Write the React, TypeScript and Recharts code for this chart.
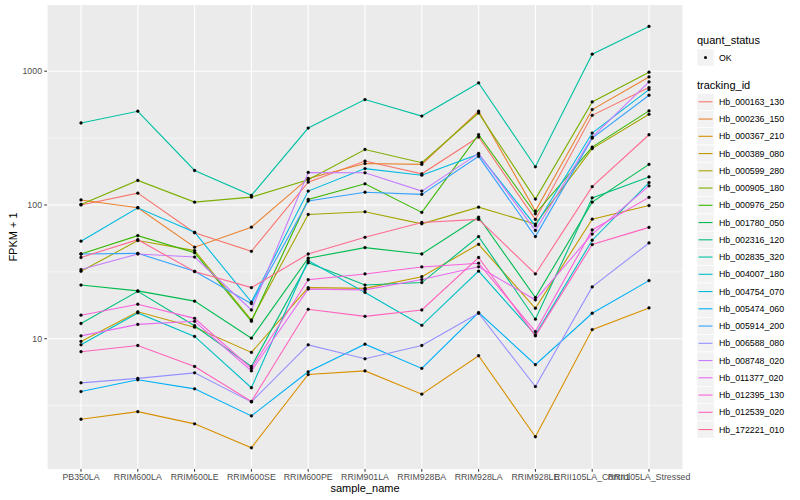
import { LineChart, Line, XAxis, YAxis, CartesianGrid } from 'recharts';

const samples = [
  'PB350LA', 'RRIM600LA', 'RRIM600LE', 'RRIM600SE', 'RRIM600PE', 'RRIM901LA',
  'RRIM928BA', 'RRIM928LA', 'RRIM928LE', 'RRII105LA_Control', 'RRII105LA_Stressed',
];

const trackingIds = [
  'Hb_000163_130', 'Hb_000236_150', 'Hb_000367_210', 'Hb_000389_080', 'Hb_000599_280',
  'Hb_000905_180', 'Hb_000976_250', 'Hb_001780_050', 'Hb_002316_120', 'Hb_002835_320',
  'Hb_004007_180', 'Hb_004754_070', 'Hb_005474_060', 'Hb_005914_200', 'Hb_006588_080',
  'Hb_008748_020', 'Hb_011377_020', 'Hb_012395_130', 'Hb_012539_020', 'Hb_172221_010',
];

// ggplot default hue palette for 20 levels
const colors = [
  '#F8766D', '#EA8331', '#D89000', '#C09B00', '#A3A500', '#7CAE00', '#39B600', '#00BB4E',
  '#00BF7D', '#00C1A3', '#00BFC4', '#00BAE0', '#00B0F6', '#35A2FF', '#9590FF', '#C77CFF',
  '#E76BF3', '#FA62DB', '#FF62BC', '#FF6C91',
];

// FPKM + 1, in sample order
const hb000163_130 = [100, 122.6, 62, 45, 148, 213, 171, 322, 78, 468, 755];
const hb000236_150 = [109, 95.3, 48.3, 68.2, 158, 204, 201, 502, 90, 517, 906];
const hb000367_210 = [2.5, 2.85, 2.31, 1.53, 5.4, 5.75, 3.85, 7.46, 1.85, 11.7, 17.0];
const hb000389_080 = [9.55, 15.9, 12.2, 7.9, 24.1, 23.8, 29.1, 50.8, 16.9, 78.3, 99];
const hb000599_280 = [31.9, 54.2, 45.6, 13.8, 84.9, 88.9, 72.3, 96.3, 72, 264, 476];
const hb000905_180 = [101, 152.6, 105, 114.4, 154.5, 260, 207, 487, 110.6, 589, 983];
const hb000976_250 = [43, 59, 44, 13.5, 110, 144, 88, 335, 86, 271, 505];
const hb001780_050 = [25.2, 22.8, 19.1, 10.1, 40, 48, 43, 81, 20.3, 105, 201];
const hb002316_120 = [13, 22.6, 12.5, 6.2, 37, 25.2, 26.3, 58, 14, 113, 162];
const hb002835_320 = [410, 502, 181, 118, 376, 614, 462, 817, 193, 1341, 2163];
const hb004007_180 = [9.0, 15.6, 10.4, 4.3, 38.4, 22.2, 12.6, 32, 10.7, 54.5, 147];
const hb004754_070 = [53.6, 95.3, 62.5, 18.8, 127, 187, 167, 240, 70, 345, 729];
const hb005474_060 = [4.03, 4.93, 4.22, 2.65, 5.66, 9.1, 6.0, 15.7, 6.4, 15.5, 27.2];
const hb005914_200 = [43, 43.5, 31.9, 18.3, 107, 124.5, 120, 231, 58, 316, 661];
const hb006588_080 = [4.68, 5.05, 5.56, 3.37, 9.0, 7.08, 8.9, 15.5, 4.39, 24.4, 52];
const hb008748_020 = [32.9, 43, 40.8, 16.4, 175, 174, 127, 243, 64.5, 322, 831];
const hb011377_020 = [10.5, 12.8, 13.5, 5.75, 23.5, 23.2, 27.7, 34.5, 19.5, 60.6, 139];
const hb012395_130 = [15, 18.1, 14.2, 6.0, 27.6, 30.5, 34.4, 36.7, 11.3, 65, 114];
const hb012539_020 = [8.0, 8.9, 6.2, 3.4, 16.6, 14.7, 16.4, 40.5, 10.5, 50.6, 68];
const hb172221_010 = [40.5, 55, 31.8, 24.1, 43, 57.3, 74, 78, 30.5, 137, 335];

const series = [
  hb000163_130, hb000236_150, hb000367_210, hb000389_080, hb000599_280,
  hb000905_180, hb000976_250, hb001780_050, hb002316_120, hb002835_320,
  hb004007_180, hb004754_070, hb005474_060, hb005914_200, hb006588_080,
  hb008748_020, hb011377_020, hb012395_130, hb012539_020, hb172221_010,
];

const yTicks = [10, 100, 1000];
const yMinor = [3.162, 31.62, 316.2];

const data = samples.map((s, i) => {
  const row: any = { sample: s };
  trackingIds.forEach((id, j) => { row[id] = series[j][i]; });
  return row;
});

const FONT = '"Liberation Sans", Arial, Helvetica, sans-serif';

const YTitle = (props: any) => {
  const vb = props.viewBox || { y: 5, height: 464 };
  const cx = 13;
  const cy = vb.y + vb.height / 2;
  return (
    <text x={cx} y={cy} transform={`rotate(-90 ${cx} ${cy})`} textAnchor="middle"
      dominantBaseline="central" fontSize={11} fill="#000">FPKM + 1</text>
  );
};

const XTitle = (props: any) => {
  const vb = props.viewBox || { x: 47, width: 636 };
  return (
    <text x={vb.x + vb.width / 2} y={492} textAnchor="middle" fontSize={11} fill="#000">sample_name</text>
  );
};

function LegendBox() {
  const top = 93.3;
  const step = 17.25;
  return (
    <svg width={110} height={500} style={{ position: 'absolute', left: 690, top: 0 }}
      fontFamily={FONT}>
      <text x={7} y={44} fontSize={11} fill="#000">quant_status</text>
      <rect x={7} y={49} width={17} height={17} fill="#F2F2F2" stroke="#fff" strokeWidth={0.5} />
      <circle cx={15.5} cy={57.5} r={1.5} fill="#000" />
      <text x={29} y={57.5} fontSize={8.8} dominantBaseline="central" fill="#000">OK</text>
      <text x={7} y={89} fontSize={11} fill="#000">tracking_id</text>
      {trackingIds.map((id, i) => {
        const y0 = top + step * i;
        return (
          <g key={id}>
            <rect x={7} y={y0} width={17} height={17} fill="#F2F2F2" stroke="#fff" strokeWidth={0.5} />
            <line x1={8.5} x2={22.5} y1={y0 + 8.5} y2={y0 + 8.5} stroke={colors[i]} strokeWidth={1.1} />
            <text x={29} y={y0 + 8.5} fontSize={8.8} dominantBaseline="central" fill="#000">{id}</text>
          </g>
        );
      })}
    </svg>
  );
}

export default function App() {
  return (
    <div style={{ position: 'absolute', left: 0, top: 0, width: 800, height: 500, background: '#fff', fontFamily: FONT }}>
      <LineChart width={800} height={500} data={data} margin={{ top: 5, right: 117, left: 0, bottom: 0 }}>
        <CartesianGrid fill="#EBEBEB" stroke="#fff" strokeWidth={0.55} vertical={false}
          horizontalValues={yMinor} />
        <CartesianGrid stroke="#fff" strokeWidth={1.1} fill="none" horizontalValues={yTicks} />
        <XAxis dataKey="sample" interval={0} padding={{ left: 34, right: 34 }} height={31}
          axisLine={false} tickLine={{ stroke: '#333333' }} tickSize={2.75} tickMargin={2}
          tick={{ fontSize: 8.8, fill: '#4D4D4D' }} label={<XTitle />} />
        <YAxis scale="log" type="number" domain={[1.062, 3126]} allowDataOverflow ticks={yTicks}
          width={47} axisLine={false} tickLine={{ stroke: '#333333' }} tickSize={2.75} tickMargin={2.2}
          tick={{ fontSize: 8.8, fill: '#4D4D4D' }} label={<YTitle />} />
        {trackingIds.map((id, i) => (
          <Line key={id} dataKey={id} type="linear" stroke={colors[i]} strokeWidth={1.1}
            dot={false} activeDot={false} isAnimationActive={false} />
        ))}
        {trackingIds.map((id) => (
          <Line key={`${id}-pts`} dataKey={id} type="linear" stroke="none" legendType="none"
            dot={{ r: 1.4, fill: '#000', stroke: '#000', strokeWidth: 0.4 }} activeDot={false}
            isAnimationActive={false} />
        ))}
      </LineChart>
      <LegendBox />
    </div>
  );
}
